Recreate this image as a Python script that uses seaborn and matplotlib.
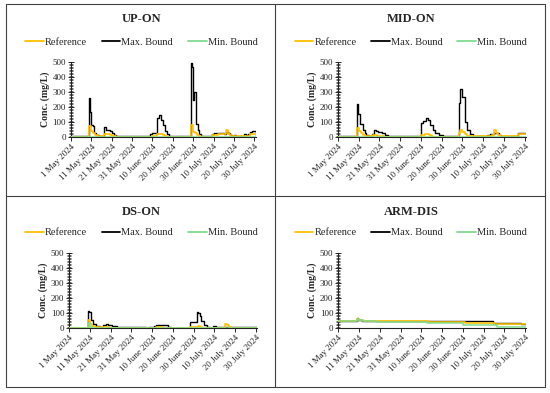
import pandas as pd
import numpy as np
import matplotlib
matplotlib.use('Agg')
import matplotlib.pyplot as plt
import matplotlib.dates as mdates
from matplotlib.ticker import MultipleLocator
from matplotlib.lines import Line2D
import seaborn as sns

# ── Data (day offsets from 1 May 2024, step values in mg/L) ─────────────
START = pd.Timestamp('2024-05-01')

# UP-ON
up_max_days = [0, 9, 9.5, 10, 11, 11.5, 12.5, 13.5, 16, 17, 18, 19, 20, 21, 22, 23,
               39, 40, 41, 42, 43, 44, 45, 46, 47, 48, 49,
               59, 59.5, 60, 60.4, 61.4, 62.4, 63, 64, 65,
               69, 70, 71, 72, 73, 74, 75, 76, 77, 78, 79, 80, 81, 82, 83,
               85, 86, 87, 88, 89, 90, 91]
up_max_vals = [5, 258, 170, 80, 75, 30, 15, 8, 68, 50, 45, 42, 30, 15, 10, 5,
               22, 28, 25, 130, 150, 115, 80, 40, 18, 10, 5,
               495, 470, 250, 300, 90, 50, 20, 10, 5,
               22, 28, 25, 30, 25, 28, 22, 35, 25, 12, 10, 12, 10, 8, 5,
               18, 15, 20, 32, 40, 38, 28]
up_ref_days = [0, 9, 10, 11, 12, 13, 16, 17, 18, 19, 20, 21, 22,
               40, 42, 43, 44, 45, 46, 47, 59, 60, 61, 62, 63, 64,
               69, 72, 76, 77, 78, 80, 85, 88, 91]
up_ref_vals = [2, 75, 40, 25, 12, 5, 20, 22, 18, 15, 10, 5, 2,
               10, 20, 22, 18, 12, 6, 2, 80, 35, 25, 15, 8, 3,
               12, 18, 50, 20, 8, 5, 10, 18, 15]
up_min_days = [0, 91]
up_min_vals = [3, 3]

# MID-ON
mid_max_days = [0, 9, 9.8, 10.5, 12, 12.8, 13.5, 15, 16.3, 17.3, 18.5, 19.5, 21, 22.5, 24, 25.5,
                40, 41, 42.4, 43.2, 44.5, 45.8, 47, 48.5, 50.5,
                58.2, 59, 59.6, 61, 62, 63.5, 65, 67,
                69, 72, 73.5, 75, 76.5, 77.5, 78.5, 80, 82, 86.8, 91]
mid_max_vals = [5, 220, 155, 90, 45, 25, 15, 8, 20, 45, 38, 32, 25, 15, 8, 5,
                95, 110, 130, 115, 80, 50, 30, 15, 8,
                230, 320, 265, 100, 50, 20, 10, 5,
                10, 12, 20, 25, 30, 12, 10, 8, 10, 30, 30]
mid_ref_days = [0, 9, 10, 11, 12, 13, 14, 17, 18, 19, 20, 21, 22,
                40, 42, 43, 44, 45, 46, 58.2, 59, 60, 61, 62, 63,
                69, 74, 75, 76, 77, 78, 87, 91]
mid_ref_vals = [2, 60, 40, 25, 15, 8, 4, 15, 12, 10, 8, 5, 2,
                15, 20, 18, 12, 8, 3, 30, 50, 35, 20, 10, 4,
                8, 12, 50, 30, 15, 6, 18, 15]
mid_min_days = [0, 91]
mid_min_vals = [3, 3]

# DS-ON
ds_max_days = [0, 9, 9.6, 10.3, 11.6, 13, 14.8, 16.4, 17.7, 18.8, 20.4, 22.8,
               37, 38, 41, 42, 44.5, 46, 47.5, 49,
               58.2, 61.4, 62.2, 63, 63.8, 65, 66.5, 68,
               69.5, 71, 80, 82, 91]
ds_max_vals = [4, 115, 108, 55, 30, 15, 8, 25, 30, 20, 15, 6,
               4, 12, 15, 25, 25, 20, 12, 5,
               45, 105, 100, 85, 50, 20, 10, 5,
               15, 10, 8, 6, 8]
ds_ref_days = [0, 9, 10, 11, 12, 17, 18, 19, 42, 45, 58.2, 62, 63, 64, 75, 76, 77, 78, 91]
ds_ref_vals = [3, 55, 30, 15, 6, 10, 8, 3, 10, 3, 12, 15, 10, 4, 30, 25, 10, 4, 4]
ds_min_days = [0, 9, 10, 11, 91]
ds_min_vals = [2, 35, 12, 2, 2]

# ARM-DIS
arm_max_days = [0, 9, 9.6, 11.5, 40, 74.5, 88, 91]
arm_max_vals = [50, 70, 58, 50, 49, 36, 30, 30]
arm_ref_days = [0, 9, 10, 12, 43, 61, 75, 85, 91]
arm_ref_vals = [50, 65, 55, 48, 44, 36, 30, 28, 28]
arm_min_days = [0, 9, 9.6, 12, 18, 42.6, 60, 75.5, 76.5, 91]
arm_min_vals = [50, 62, 52, 48, 45, 38, 25, 20, 10, 8]

sites = {
    'UP-ON':   [(up_ref_days, up_ref_vals), (up_max_days, up_max_vals), (up_min_days, up_min_vals)],
    'MID-ON':  [(mid_ref_days, mid_ref_vals), (mid_max_days, mid_max_vals), (mid_min_days, mid_min_vals)],
    'DS-ON':   [(ds_ref_days, ds_ref_vals), (ds_max_days, ds_max_vals), (ds_min_days, ds_min_vals)],
    'ARM-DIS': [(arm_ref_days, arm_ref_vals), (arm_max_days, arm_max_vals), (arm_min_days, arm_min_vals)],
}
series_names = ['Reference', 'Max. Bound', 'Min. Bound']
colors = {'Reference': '#FFC000', 'Max. Bound': '#000000', 'Min. Bound': '#7EDC8E'}
widths = {'Reference': 1.2, 'Max. Bound': 1.0, 'Min. Bound': 1.1}
zorders = {'Reference': 3, 'Max. Bound': 2, 'Min. Bound': 4}

tick_dates = pd.date_range('2024-05-01', periods=10, freq='10D')

# ── Style ──────────────────────────────────────────────────────────────
sns.set_theme(style='ticks')
plt.rcParams['font.family'] = ['Liberation Serif', 'DejaVu Serif']

fig = plt.figure(figsize=(5.5, 3.93), dpi=100)

# axes rects [left, bottom, width, height] and panel centres
layout = {
    'UP-ON':   ([0.1291, 0.6514, 0.3355, 0.1908], 0.257, 0.952, 0.893),
    'MID-ON':  ([0.6145, 0.6514, 0.3418, 0.1908], 0.747, 0.952, 0.893),
    'DS-ON':   ([0.1260, 0.1646, 0.3413, 0.1916], 0.257, 0.460, 0.408),
    'ARM-DIS': ([0.6151, 0.1646, 0.3418, 0.1916], 0.747, 0.460, 0.408),
}

for site, series in sites.items():
    rect, cx, ty, ly = layout[site]
    ax = fig.add_axes(rect)
    for name, (days, vals) in zip(series_names, series):
        d = pd.DataFrame({'date': START + pd.to_timedelta(days, unit='D'), 'value': vals})
        sns.lineplot(data=d, x='date', y='value', color=colors[name], lw=widths[name],
                     drawstyle='steps-post', estimator=None, ax=ax, zorder=zorders[name])

    ax.set_xlim(START, START + pd.Timedelta(days=90.6))
    ax.set_ylim(0, 500)
    ax.set_xticks(tick_dates)
    ax.xaxis.set_major_formatter(mdates.DateFormatter('%-d %B %Y'))
    ax.yaxis.set_major_locator(MultipleLocator(100))
    ax.yaxis.set_minor_locator(MultipleLocator(10))
    ax.tick_params(axis='x', labelsize=6.5, length=3, width=0.7, direction='out', pad=1)
    ax.tick_params(axis='y', which='major', labelsize=6.5, length=4, width=0.7, direction='inout', pad=1.5)
    ax.tick_params(axis='y', which='minor', length=2.5, width=0.5, direction='inout')
    for lab in ax.get_xticklabels():
        lab.set_rotation(45)
        lab.set_ha('right')
        lab.set_rotation_mode('anchor')
    ax.set_xlabel('')
    ax.set_ylabel('Conc. (mg/L)', fontsize=7, fontweight='bold', labelpad=2)
    sns.despine(ax=ax)
    for s in ['left', 'bottom']:
        ax.spines[s].set_linewidth(0.8)
        ax.spines[s].set_color('#222222')

    fig.text(cx, ty, site, ha='center', va='center', fontsize=9, fontweight='bold')
    handles = [Line2D([0], [0], color=colors[n], lw=1.3) for n in series_names]
    fig.legend(handles, series_names, loc='center', bbox_to_anchor=(cx, ly), ncol=3,
               frameon=False, fontsize=7.5, handlelength=1.8, handletextpad=0.1,
               columnspacing=1.4, borderpad=0)

# panel frames
frame = dict(color='#404040', lw=0.8, transform=fig.transFigure)
fig.add_artist(plt.Rectangle((0.0118, 0.0153), 0.9782, 0.9745, fill=False, ec='#404040', lw=0.8,
                             transform=fig.transFigure))
fig.add_artist(Line2D([0.5, 0.5], [0.0153, 0.9898], **frame))
fig.add_artist(Line2D([0.0118, 0.99], [0.5025, 0.5025], **frame))

fig.savefig('out.png', dpi=100)
